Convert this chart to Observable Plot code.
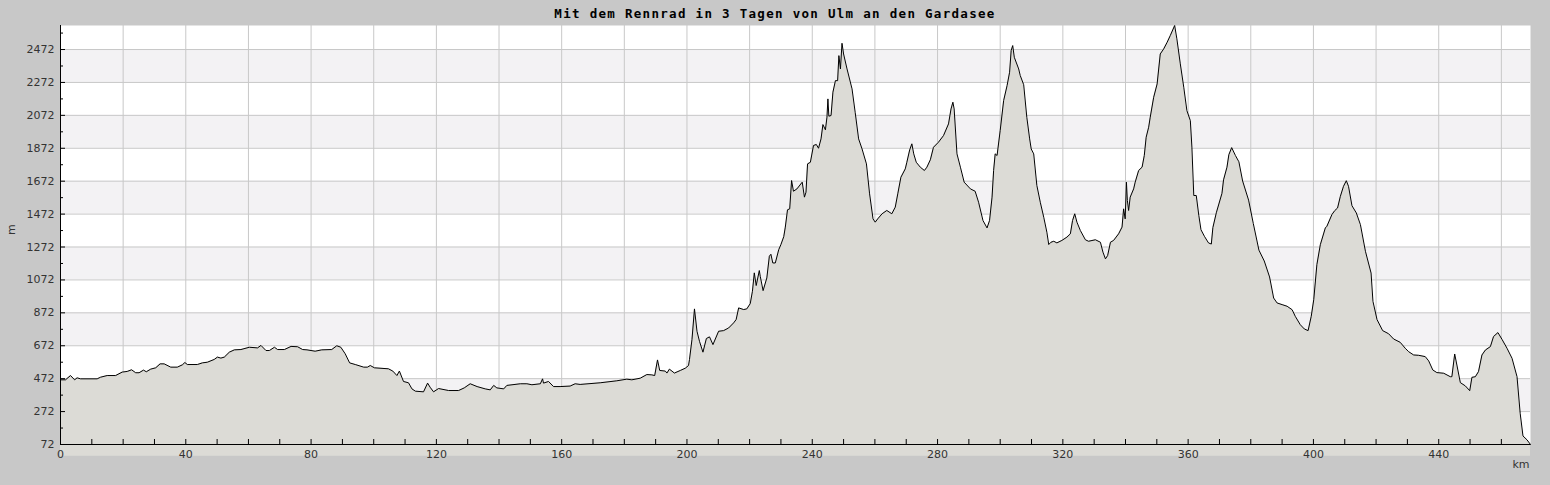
<!DOCTYPE html>
<html><head><meta charset="utf-8">
<script src="https://cdn.jsdelivr.net/npm/d3@7"></script>
<script src="https://cdn.jsdelivr.net/npm/@observablehq/plot@0.6"></script>
<style>
body{margin:0;background:#c8c8c8;width:1550px;height:485px;overflow:hidden}
#title{height:25px;line-height:28px;text-align:center;font-family:"DejaVu Sans Mono",monospace;font-weight:bold;font-size:12.5px;letter-spacing:1.3px;color:#000;white-space:nowrap}
</style></head><body>
<div id="title">Mit dem Rennrad in 3 Tagen von Ulm an den Gardasee</div>
<div id="chart"></div>
<script>
const km = [0,1.6,3.2,4.5,5.3,6.4,11.7,12.8,14.9,17.6,19.7,21.3,22.7,24.0,25.1,26.5,27.4,28.8,30.4,31.8,33.1,35.2,37.3,38.9,39.7,40.5,43.7,45.3,46.9,49.1,50.1,51.2,52.3,53.9,55.5,57.6,60.3,62.9,64.0,65.6,66.7,68.3,69.3,71.5,73.6,75.7,77.3,
78.7,81.3,83.4,86.6,88.2,89.5,90.9,92.3,94.1,96.8,98.0,98.9,100.2,104.7,106.1,107.4,108.2,109.5,111.1,112.2,113.3,115.9,117.2,118.0,119.1,120.7,123.9,127.1,128.9,130.8,133.0,135.6,137.2,138.3,139.3,141.5,142.5,146.8,148.9,150.5,153.2,153.9,154.2,155.8,157.4,159.5,
162.7,164.3,165.9,172.3,177.6,180.8,182.4,185.1,187.2,188.8,189.7,190.6,191.3,193.1,193.6,194.4,196.0,197.9,199.5,200.5,
200.8,201.6,202.4,203.2,204.0,205.1,206.2,207.2,208.3,210.1,211.7,213.3,214.9,215.7,216.5,218.1,219.1,220.2,220.9,221.5,222.1,223.1,223.4,224.3,225.5,226.3,226.8,227.4,228.2,229.3,230.0,
230.9,231.4,232.1,232.8,233.4,234.0,235.1,236.8,237.5,238.0,238.5,239.4,240.4,241.3,242.0,242.8,243.4,244.2,244.7,245.0,245.3,246.0,246.6,247.4,248.1,248.5,249.0,249.5,250.0,251.1,252.7,253.7,254.8,255.9,257.3,258.3,259.4,260.1,260.9,262.3,263.8,265.4,266.5,267.3,268.3,269.7,270.2,271.1,271.8,272.4,273.2,274.5,275.8,276.6,277.7,278.7,280.3,281.9,283.5,284.3,284.9,285.3,286.2,287.3,288.5,290.5,292.0,293.1,294.5,295.8,296.6,297.4,297.9,298.4,299.0,300.0,301.1,302.2,303.0,303.5,304.0,304.5,305.9,
306.4,307.5,308.5,309.4,309.9,310.7,311.7,312.8,313.9,314.9,315.5,316.2,317.1,318.1,319.7,321.3,322.4,323.1,323.8,324.5,325.6,327.2,328.2,330.4,332.0,332.8,333.6,334.3,335.2,336.2,337.8,338.9,339.4,339.9,340.3,340.6,341.0,341.5,342.6,343.1,344.2,345.3,346.0,346.6,347.4,347.9,349.0,350.1,351.1,352.2,353.3,354.3,355.7,356.4,357.5,358.6,359.6,360.7,361.2,361.8,362.6,363.4,364.1,365.2,366.5,367.4,367.9,369.0,370.8,371.3,372.4,373.0,373.9,375.1,376.2,377.4,379.3,380.8,382.6,384.3,386.0,
387.3,388.4,390.0,391.6,393.2,394.2,395.8,397.1,398.3,399.3,400.1,401.1,402.2,403.8,404.3,405.9,406.8,407.7,408.6,409.6,410.5,411.2,412.3,413.7,415.0,416.6,418.4,419.0,420.3,422.1,424.0,425.6,427.7,429.3,430.4,432.0,433.6,435.7,436.8,438.1,439.4,441.6,443.7,444.2,445.1,445.8,446.9,448.5,449.9,450.6,451.7,452.7,453.8,454.9,456.5,457.5,458.9,460.2,461.8,463.4,465.0,466.0,466.9,468.2,469.3];
const elev = [465,465,491,465,477,471,471,481,491,491,512,516,526,508,508,524,514,530,538,562,562,542,542,556,570,558,558,568,572,589,603,597,603,633,647,649,663,659,674,643,643,663,649,649,668,666,649,
647,639,647,649,672,663,623,568,558,542,542,552,538,532,518,491,518,455,447,410,396,392,445,420,392,412,400,400,416,441,424,410,404,431,416,410,431,441,441,435,441,471,445,455,424,424,
427,441,437,447,459,469,465,475,497,495,491,586,522,518,506,530,506,522,536,552,
588,710,896,760,699,633,716,726,679,760,764,780,811,831,902,892,896,928,1003,1115,1038,1129,1094,1007,1084,1216,1228,1175,1175,1256,1287,
1335,1393,1498,1504,1676,1611,1625,1666,1575,1605,1777,1787,1889,1895,1872,1929,2016,1984,2061,2172,2067,2071,2213,2283,2283,2435,2354,2510,2445,2354,2233,2091,1929,1868,1777,1595,1443,1423,1443,1474,1494,1474,1514,1595,1696,1747,1787,1862,1899,1838,1787,1757,1737,1757,1802,1878,1909,1949,2020,2111,2152,2111,1838,1757,1666,1625,1611,1544,1433,1388,1433,1575,1737,1838,1828,1980,2162,2253,2334,2466,2496,2425,2354,
2314,2258,2060,1929,1868,1838,1646,1544,1453,1362,1287,1301,1307,1297,1312,1332,1352,1433,1474,1423,1372,1316,1307,1316,1301,1241,1200,1220,1301,1312,1352,1393,1504,1443,1666,1555,1494,1575,1625,1666,1737,1757,1828,1939,2000,2061,2182,2263,2445,2476,2516,2557,2618,2537,2385,2243,2101,2040,1879,1585,1585,1465,1377,1337,1297,1290,1390,1480,1598,1680,1757,1833,1876,1828,1790,1673,1557,1415,1253,1187,1090,
962,932,922,912,891,851,800,774,764,851,952,1165,1286,1388,1398,1469,1493,1509,1580,1641,1675,1641,1523,1479,1408,1246,1114,942,831,764,745,713,693,657,636,616,614,606,580,525,509,505,484,484,622,555,448,428,399,480,484,515,616,646,667,728,752,711,657,596,484,262,124,100,72];

const yTicks = [72,272,472,672,872,1072,1272,1472,1672,1872,2072,2272,2472];
const yMinor = [172,372,572,772,972,1172,1372,1572,1772,1972,2172,2372,2572];
const xLabels = [0,40,80,120,160,200,240,280,320,360,400,440];
const xTicks = [0,10,20,30,40,50,60,70,80,90,100,110,120,130,140,150,160,170,180,190,200,210,220,230,240,250,260,270,280,290,300,310,320,330,340,350,360,370,380,390,400,410,420,430,440,450,460];
const xGrid = [20,40,60,80,100,120,140,160,180,200,220,240,260,280,300,320,340,360,380,400,420,440,460];
const bandStarts = [272,672,1072,1472,1872,2272];
const xUnit = ["km"];
const yUnit = ["m"];

const data = km.map((k, i) => ({km: k, m: elev[i]}));
const fmt = d => String(d);

const chart = Plot.plot({
  width: 1550, height: 460,
  marginTop: 0, marginLeft: 60, marginRight: 20, marginBottom: 41,
  style: {background: "#c8c8c8", fontFamily: "DejaVu Sans", fontSize: "11px", color: "#333"},
  x: {domain: [0, 469.3], label: null},
  y: {domain: [72, 2618], label: null},
  marks: [
    Plot.frame({fill: "white", stroke: null}),
    Plot.rect(bandStarts, {y1: d => d, y2: d => d + 200, fill: "#f3f2f4"}),
    Plot.gridX(xGrid, {stroke: "#c8c8c8", strokeOpacity: 1}),
    Plot.gridY(yTicks, {stroke: "#c8c8c8", strokeOpacity: 1}),
    Plot.areaY(data, {x: "km", y: "m", fill: "#dcdbd6"}),
    Plot.lineY(data, {x: "km", y: "m", stroke: "black", strokeWidth: 1}),
    Plot.ruleX([0], {stroke: "black"}),
    Plot.ruleY([72], {stroke: "black"}),
    Plot.axisY(yTicks, {anchor: "left", tickSize: 0, tickPadding: 6, tickFormat: fmt, fill: "#333", label: null}),
    Plot.axisY(yTicks, {anchor: "left", tickSize: 5, dx: 5, stroke: "black", fill: "none", label: null}),
    Plot.axisY(yMinor, {anchor: "left", tickSize: 3, dx: 3, stroke: "black", fill: "none", label: null}),
    Plot.axisX(xLabels, {anchor: "bottom", tickSize: 0, tickPadding: 6, tickFormat: fmt, fill: "#333", label: null}),
    Plot.axisX(xTicks, {anchor: "bottom", tickSize: 5, dy: -5, stroke: "black", fill: "none", label: null}),
    Plot.text(xUnit, {text: d => d, frameAnchor: "bottom-right", textAnchor: "end", lineAnchor: "middle", dy: 20, dx: -1, fill: "#333"}),
    Plot.text(yUnit, {text: d => d, frameAnchor: "left", rotate: -90, dx: -49, fill: "#333"})
  ]
});
document.getElementById("chart").appendChild(chart);
</script>
</body></html>
